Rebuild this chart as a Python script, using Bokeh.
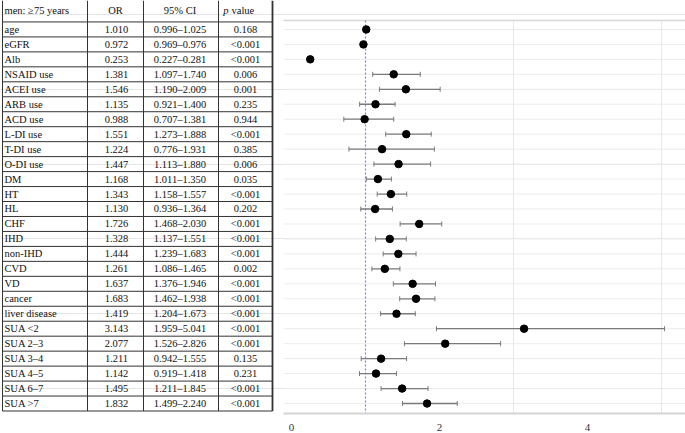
from bokeh.plotting import figure
from bokeh.models import Range1d, FixedTicker, ColumnDataSource
from bokeh.core.properties import value
from bokeh.embed import file_html
from bokeh.resources import INLINE

# ---------------- data ----------------
header = ["men: \u226575 years", "OR", "95% CI", "p value"]
names = ["age", "eGFR", "Alb", "NSAID use", "ACEI use", "ARB use", "ACD use", "L-DI use",
         "T-DI use", "O-DI use", "DM", "HT", "HL", "CHF", "IHD", "non-IHD", "CVD", "VD",
         "cancer", "liver disease", "SUA <2", "SUA 2\u20133", "SUA 3\u20134", "SUA 4\u20135",
         "SUA 6\u20137", "SUA >7"]
or_vals = [1.010, 0.972, 0.253, 1.381, 1.546, 1.135, 0.988, 1.551, 1.224, 1.447, 1.168, 1.343,
           1.130, 1.726, 1.328, 1.444, 1.261, 1.637, 1.683, 1.419, 3.143, 2.077, 1.211, 1.142,
           1.495, 1.832]
ci_lo = [0.996, 0.969, 0.227, 1.097, 1.190, 0.921, 0.707, 1.273, 0.776, 1.113, 1.011, 1.158,
         0.936, 1.468, 1.137, 1.239, 1.086, 1.376, 1.462, 1.204, 1.959, 1.526, 0.942, 0.919,
         1.211, 1.499]
ci_hi = [1.025, 0.976, 0.281, 1.740, 2.009, 1.400, 1.381, 1.888, 1.931, 1.880, 1.350, 1.557,
         1.364, 2.030, 1.551, 1.683, 1.465, 1.946, 1.938, 1.673, 5.041, 2.826, 1.555, 1.418,
         1.845, 2.240]
p_vals = ["0.168", "<0.001", "<0.001", "0.006", "0.001", "0.235", "0.944", "<0.001", "0.385",
          "0.006", "0.035", "<0.001", "0.202", "<0.001", "<0.001", "<0.001", "0.002", "<0.001",
          "<0.001", "<0.001", "<0.001", "<0.001", "0.135", "0.231", "<0.001", "<0.001"]
x_ticks = [0, 2, 4]
vgrid = [3, 5]
ref_line = 1

n = len(names)
ys = list(range(1, n + 1))
SERIF = value("Liberation Serif")
FS = "10.5px"

src = ColumnDataSource(dict(
    y=ys, name=names,
    orv=or_vals, lo=ci_lo, hi=ci_hi,
    ort=[f"{v:.3f}" for v in or_vals],
    cit=[f"{a:.3f}\u2013{b:.3f}" for a, b in zip(ci_lo, ci_hi)],
    pt=p_vals,
))

# ---------------- geometry ----------------
W, H = 685, 433
BOTTOM = 19                       # axis band height
FRAME_H = H - BOTTOM              # 414
ROW_PX = 15.0
ROW0_PX = 14.0                    # page y of row k is ROW0_PX + ROW_PX * k
k_top = (0 - ROW0_PX) / ROW_PX
k_bot = (FRAME_H - ROW0_PX) / ROW_PX
PX_PER = 74.0
X0_PX = 291.0                     # page x of OR = 0
x_start = (0 - X0_PX) / PX_PER
x_end = (W - X0_PX) / PX_PER
plot_left = (283 - X0_PX) / PX_PER
plot_top = (20 - ROW0_PX) / ROW_PX

p = figure(width=W, height=H, output_backend="svg", toolbar_location=None,
           x_range=Range1d(x_start, x_end), y_range=Range1d(k_bot, k_top),
           y_axis_location=None,
           min_border_left=0, min_border_right=0, min_border_top=0, min_border_bottom=BOTTOM)
p.outline_line_color = None
p.background_fill_color = "white"
p.xgrid.visible = False
p.extra_x_ranges = {"tbl": Range1d(0, W)}

# ---------------- forest plot ----------------
p.segment(x0=plot_left, x1=x_end, y0=ys, y1=ys, line_color="#ececec", line_width=1)
p.segment(x0=vgrid, x1=vgrid, y0=plot_top, y1=k_bot, line_color="#e8e8e8", line_width=1)
p.segment(x0=plot_left, x1=x_end, y0=plot_top, y1=plot_top, line_color="#d8d8d8", line_width=1.5)
p.segment(x0=ref_line, x1=ref_line, y0=plot_top, y1=k_bot, line_color="#7b7bff",
          line_dash="2 2", line_width=1.2)

p.xaxis.ticker = FixedTicker(ticks=x_ticks)
p.xaxis.bounds = (plot_left, x_end)
p.xaxis.major_tick_line_color = None
p.xaxis.minor_tick_line_color = None
p.xaxis.axis_line_color = "#d4d4d4"
p.xaxis.axis_line_width = 2
p.xaxis.major_label_text_font = "Liberation Serif"
p.xaxis.major_label_text_font_size = "11px"
p.xaxis.major_label_text_color = "#333333"
p.xaxis.major_label_standoff = 4

p.segment(x0="lo", x1="hi", y0="y", y1="y", source=src, line_color="#7a7a7a", line_width=1.3)
p.scatter(x="lo", y="y", source=src, marker="dash", angle=1.5708, size=5,
          line_color="#7a7a7a", line_width=1)
p.scatter(x="hi", y="y", source=src, marker="dash", angle=1.5708, size=5,
          line_color="#7a7a7a", line_width=1)
p.scatter(x="orv", y="y", source=src, size=7.5, fill_color="black", line_color="black")

# ---------------- table (page-pixel x range) ----------------
col_x = [2, 87, 143, 218, 272]
hlines = [k + 0.5 for k in range(0, n + 1)]
p.segment(x0=col_x[0], x1=col_x[-1], y0=hlines, y1=hlines, line_color="#333333",
          line_width=1, x_range_name="tbl")
p.segment(x0=col_x, x1=col_x, y0=k_top, y1=n + 0.5, line_color="#333333",
          line_width=[1, 1, 1, 1, 1.8], x_range_name="tbl")

tk = dict(text_font=SERIF, text_font_size=FS, text_baseline="middle", text_color="#111111",
          x_range_name="tbl")
c_or = (col_x[1] + col_x[2]) / 2 + 1
c_ci = (col_x[2] + col_x[3]) / 2 - 1
c_p = (col_x[3] + col_x[4]) / 2
p.text(x=4, y="y", text="name", source=src, text_align="left", **tk)
p.text(x=c_or, y="y", text="ort", source=src, text_align="center", **tk)
p.text(x=c_ci, y="y", text="cit", source=src, text_align="center", **tk)
p.text(x=c_p, y="y", text="pt", source=src, text_align="center", **tk)

hy = (10.5 - ROW0_PX) / ROW_PX
p.text(x=[4], y=[hy], text=[header[0]], text_align="left", **tk)
p.text(x=[c_or - 1], y=[hy], text=[header[1]], text_align="center", **tk)
p.text(x=[c_ci], y=[hy], text=[header[2]], text_align="center", **tk)
p.text(x=[228], y=[hy], text=[header[3].split(" ")[0]], text_align="right",
       text_font_style="italic", **tk)
p.text(x=[231], y=[hy], text=[header[3].split(" ")[1]], text_align="left", **tk)

open("out.html", "w").write(file_html(p, INLINE))
